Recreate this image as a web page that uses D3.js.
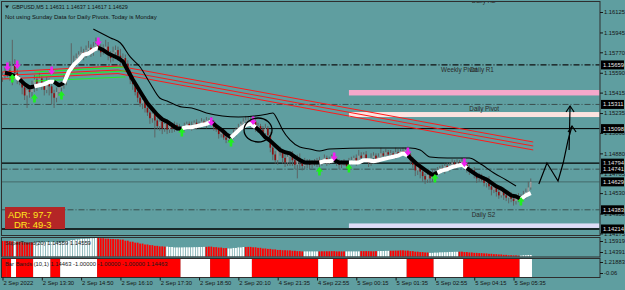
<!DOCTYPE html>
<html>
<head>
<meta charset="utf-8">
<script src="https://cdn.jsdelivr.net/npm/d3@7"></script>
<style>
  body { margin: 0; background: #5f9ea0; }
  #vis { width: 625px; height: 290px; }
</style>
</head>
<body>
<div id="vis"></div>
<script>

// price data, one value per M5 bar (open = previous close)
const FIRST_OPEN = 1.1555;
const CLOSES = [
  1.1557,1.1560,1.1561,1.1558,1.1565,1.1559,1.1554,1.1551,1.1546,1.1539,1.1544,1.1542,1.1547,
  1.1553,1.1549,1.1554,1.1548,1.1544,1.1551,1.1547,1.1541,1.1537,1.1542,1.1546,
  1.1548,1.1553,1.1556,1.1561,1.1565,1.1568,1.1572,1.1575,1.1577,1.1574,1.1579,1.1581,1.1577,1.1582,1.1584,
  1.1581,1.1577,1.1579,1.1582,1.1575,1.1572,1.1577,1.1579,1.1574,1.1570,1.1572,1.1567,
  1.1560,1.1553,1.1549,1.1542,1.1537,1.1532,1.1535,1.1528,1.1524,1.1519,1.1523,1.1517,1.1512,1.1516,1.1510,1.1514,1.1509,1.1512,1.1510,1.1513,
  1.1511,1.1509,1.1510,1.1512,1.1514,1.1511,1.1513,1.1515,1.1512,1.1514,1.1516,1.1513,1.1517,1.1517,
  1.1515,1.1511,1.1509,1.1505,1.1507,1.1502,1.1500,1.1502,
  1.1503,1.1506,1.1509,1.1511,1.1514,1.1516,1.1517,1.1517,
  1.1514,1.1516,1.1510,1.1512,1.1509,1.1506,1.1510,1.1504,1.1493,1.1487,1.1482,1.1491,1.1489,1.1484,1.1480,1.1485,1.1487,1.1482,1.1478,1.1484,1.1481,1.1477,1.1481,1.1480,1.1478,
  1.1480,1.1479,1.1482,1.1480,1.1481,1.1484,1.1480,1.1482,1.1485,
  1.1482,1.1480,1.1478,1.1480,1.1479,1.1477,
  1.1480,1.1482,1.1484,1.1481,1.1486,1.1484,1.1487,1.1482,1.1480,1.1484,1.1486,1.1482,1.1485,1.1488,1.1486,1.1489,1.1487,1.1488,1.1486,1.1489,1.1488,1.1490,1.1488,1.1491,
  1.1487,1.1482,1.1478,1.1473,1.1477,1.1472,1.1468,1.1465,1.1469,1.1466,1.1471,
  1.1472,1.1473,1.1475,1.1473,1.1477,1.1475,1.1478,1.1480,1.1477,1.1480,1.1479,1.1481,
  1.1478,1.1475,1.1472,1.1473,1.1469,1.1466,1.1468,1.1465,1.1462,1.1465,1.1459,1.1456,1.1458,1.1454,1.1451,1.1455,1.1451,1.1449,1.1452,1.1448,1.1446,1.1450,1.1447,
  1.1449,1.1451,1.1454,1.1458,1.14629
];
// wick sizes in pips above / below the body
const WICK_UP = [
  3,4,5,8,23,6,3,2,3,2,4,3,5,
  4,3,5,2,3,4,3,2,3,4,3,
  3,4,3,5,20,6,4,3,5,3,4,6,3,4,6,
  4,3,5,6,4,3,5,4,3,6,4,3,
  3,2,4,3,2,5,4,3,4,2,5,3,2,4,3,2,4,3,2,3,
  2,3,2,3,2,2,3,2,3,2,3,2,3,2,
  3,2,3,2,3,2,3,2,
  2,3,2,3,2,3,4,3,
  3,4,2,3,2,3,4,2,3,2,3,4,3,2,3,4,2,3,2,3,4,2,3,2,3,
  2,3,2,3,2,3,2,3,2,
  3,2,3,2,3,2,
  4,3,2,3,5,3,2,3,2,4,3,2,3,5,2,3,2,3,2,4,3,2,3,2,
  3,2,3,2,3,2,3,2,3,2,3,
  2,3,2,3,2,3,2,3,2,3,2,3,
  3,2,3,2,3,2,3,2,3,2,3,2,3,2,3,2,3,2,3,2,3,2,3,
  3,4,3,5,3
];
const WICK_DOWN = [
  4,3,5,6,10,4,5,3,6,4,11,5,4,
  5,6,3,4,5,3,8,10,9,4,3,
  4,3,5,3,2,4,3,2,3,4,2,3,4,3,2,
  3,4,2,3,5,4,3,6,4,3,5,4,
  3,4,5,3,4,3,5,4,3,5,4,15,3,4,5,3,4,3,4,3,
  3,2,3,2,3,2,3,2,3,2,3,2,3,2,
  2,3,2,4,3,2,3,2,
  3,2,3,2,3,2,3,2,
  3,2,3,4,3,2,5,3,4,5,3,4,3,5,4,3,8,5,4,12,6,4,3,5,4,
  3,2,3,4,3,2,3,2,3,
  2,3,4,3,2,3,
  3,2,3,4,3,2,3,2,4,3,2,3,2,3,2,3,2,3,2,3,2,3,2,3,
  3,4,3,5,4,6,5,4,3,4,3,
  3,2,3,2,3,2,3,2,3,2,3,2,
  3,4,3,2,3,4,3,2,3,4,3,5,3,4,3,2,4,3,5,3,4,3,2,
  3,2,3,2,2
];

// thick trend line, one value every second bar (bars 1, 3, 5 ...)
const TREND_VALUES = [
  1.1559,1.1558,1.1556,1.1553,1.1549,1.1546,1.1547,1.1548,1.1549,1.1551,1.1551,1.1548,1.1550,1.1560,1.1566,1.1570,1.1575,1.1576,1.1579,1.1581,
  1.1579,1.1576,1.1574,1.1572,1.1569,1.1561,1.1553,1.1546,1.1539,1.1532,1.1527,1.1522,1.1518,1.1516,1.1513,1.1510,1.1510,1.1511,1.1511,1.1512,
  1.1513,1.1514,1.1516,1.1512,1.1509,1.1505,1.1502,1.1506,1.1510,1.1513,1.1514,1.1511,1.1507,1.1502,1.1499,1.1495,1.1491,1.1489,1.1488,1.1485,
  1.1482,1.1480,1.1480,1.1480,1.1480,1.1481,1.1481,1.1482,1.1480,1.1480,1.1480,1.1480,1.1480,1.1482,1.1482,1.1481,1.1482,1.1483,1.1484,1.1485,
  1.1486,1.1488,1.1486,1.1482,1.1478,1.1475,1.1472,1.1469,1.1471,1.1473,1.1474,1.1476,1.1477,1.1478,1.1475,1.1472,1.1469,1.1467,1.1465,1.1462,
  1.1459,1.1457,1.1454,1.1451,1.1450,1.1448,1.1451,1.1453
];

// thin black envelope line
const BAND_BARS = [37,44,48,52,56,60,64,67,73,77,83,96,108,110,112,114,117,121,125,129,133,150,158,166,170,174,181,190,194,200,205,209];
const BAND_PRICES = [1.15975,1.15896,1.15852,1.15729,1.15641,1.15500,1.15368,1.15341,1.15288,1.15280,1.15236,1.15200,1.15227,1.15236,1.15174,1.15086,
  1.14998,1.14936,1.14919,1.14901,1.14919,1.14927,1.14927,1.14927,1.14910,1.14848,1.14839,1.14839,1.14795,1.14707,1.14646,1.14593];

// red channel and green lines
const RED_BARS = [0, 47, 216];
const RED_UPPER = [1.15597, 1.15650, 1.14980];
const RED_MID = [1.15566, 1.15614, 1.14945];
const RED_LOWER = [1.15535, 1.15583, 1.14910];
const GREEN_BARS = [13, 50];
const GREEN_UPPER = [1.15597, 1.15641];
const GREEN_MID = [1.15561, 1.15606];
const GREEN_LOWER = [1.15517, 1.15553];

// arrow signals
const SELL_BARS = [2, 6, 20, 39, 85, 102, 135, 165, 188];
const SELL_PRICES = [1.15641, 1.15658, 1.15605, 1.15861, 1.15156, 1.15165, 1.14848, 1.14892, 1.14795];
const BUY_BARS = [4, 13, 24, 73, 93, 129, 141, 176, 211];
const BUY_PRICES = [1.15544, 1.15368, 1.15394, 1.15068, 1.14980, 1.14725, 1.14751, 1.14663, 1.14461];

// supertrend histogram colour flips (starts red)
const ST_FLIP_BARS = [5, 6, 13, 39, 67, 83, 92, 99, 123, 129, 140, 146, 153, 158, 174, 186, 211];

// pivot levels and zones
const LEVEL_PRICES = [1.15659, 1.15311, 1.15098, 1.14794, 1.14741, 1.14629, 1.14383, 1.14214];
const ZONE_TOP = [1.15438, 1.15244, 1.14263];
const ZONE_BOTTOM = [1.15390, 1.15200, 1.14223];
const ZONE_START_BAR = 141;
const LEVEL_LABELS = ["Weekly Pivot", "Daily R1", "Daily Pivot", "Daily S2", "Daily R2"];
const LABEL_PRICES = [1.15659, 1.15659, 1.15311, 1.14383, 1.16262];
const LABEL_BARS = [178.5, 190.3, 190, 191, 191];

// hand drawn annotation
const CIRCLE_BAR = 104, CIRCLE_PRICE = 1.15086;
const SKETCH_BARS = [218.3, 221.6, 226.1, 228.2, 230.2, 231.8];
const SKETCH_PRICES = [1.14610, 1.14795, 1.14637, 1.14795, 1.14998, 1.15121];
const SKETCH2_BARS = [230.6, 231.0];
const SKETCH2_PRICES = [1.14910, 1.15297];

// axis labels
const PRICE_TICKS = [1.16125,1.15945,1.15770,1.15590,1.15415,1.15235,1.15060,1.14880,1.14705,1.14530,1.14350,1.14175];
const TIME_BARS = [0,16,32,48,64,80,96,112,128,144,160,176,192,208];
const TIME_LABELS = ["2 Sep 2022","2 Sep 13:30","2 Sep 14:50","2 Sep 16:10","2 Sep 17:30","2 Sep 18:50","2 Sep 20:10",
  "4 Sep 21:35","4 Sep 22:55","5 Sep 00:15","5 Sep 01:35","5 Sep 02:55","5 Sep 04:15","5 Sep 05:35"];
const ST_TICKS = [1.15919, 1.14391];
const BB_TICKS = [1.21883, -0.06];


// frame constants
const FRAME_WIDTH = 625;
const FRAME_HEIGHT = 290;
const MAIN = {left: 1.5, right: 600, top: 1.5, bottom: 235.5};
const SUB1 = {top: 237.5, bottom: 257};
const SUB2 = {top: 258.5, bottom: 277.5};
const BAR_STEP = 2.457;
const FONT = "'Liberation Sans', Arial, sans-serif";

const FRAME = d3.select("#vis")
                .append("svg")
                  .attr("width", FRAME_WIDTH)
                  .attr("height", FRAME_HEIGHT)
                  .style("font-family", FONT);

// scales
const X_SCALE = d3.scaleLinear().domain([0, 1]).range([2.5, 2.5 + BAR_STEP]);
const Y_SCALE = d3.scaleLinear().domain([1.14214, 1.16125]).range([229, 12]);
const HIST_SCALE = d3.scaleLinear().domain([1.14415, 1.1581]).range([256.5, 238]);
const ST_LABEL_SCALE = d3.scaleLinear().domain([1.14391, 1.15919]).range([252, 241]);
const BB_LABEL_SCALE = d3.scaleLinear().domain([-0.06, 1.21883]).range([273, 262]);

// clip for the main window
FRAME.append("clipPath").attr("id", "mainclip")
  .append("rect")
    .attr("x", MAIN.left + 0.5).attr("y", MAIN.top + 0.5)
    .attr("width", MAIN.right - MAIN.left - 1).attr("height", MAIN.bottom - MAIN.top - 1);

const MAING = FRAME.append("g").attr("clip-path", "url(#mainclip)");

// signal state: -1 after sell arrow, 1 after buy arrow
const EVENTS = SELL_BARS.map((b) => ({bar: b, dir: -1}))
  .concat(BUY_BARS.map((b) => ({bar: b, dir: 1})))
  .sort((a, b) => a.bar - b.bar);
function stateAt(bar) {
  let s = -1;
  EVENTS.forEach((e) => { if (e.bar <= bar) { s = e.dir; } });
  return s;
}


// pivot zones
MAING.selectAll(".zone")
  .data(ZONE_TOP)
  .enter()
  .append("rect")
    .attr("x", X_SCALE(ZONE_START_BAR))
    .attr("y", (d) => Y_SCALE(d))
    .attr("width", MAIN.right - X_SCALE(ZONE_START_BAR))
    .attr("height", (d, i) => Y_SCALE(ZONE_BOTTOM[i]) - Y_SCALE(d))
    .attr("fill", (d, i) => ["#f5a8cb", "#fde3e0", "#dedcf6"][i]);

// level lines
const LEVEL_STYLES = [
  {stroke: "#111", width: 1.2, dash: "6,2,1,2"},
  {stroke: "#3a4d4d", width: 1, dash: "6,2,1,2"},
  {stroke: "#000", width: 1, dash: null},
  {stroke: "#000", width: 1.2, dash: null},
  {stroke: "#3a4d4d", width: 1, dash: "6,2,1,2"},
  {stroke: "#3d5a5a", width: 0.8, dash: null},
  {stroke: "#3a4d4d", width: 1, dash: "6,2,1,2"},
  {stroke: "#000", width: 1.5, dash: null}
];
MAING.selectAll(".level")
  .data(LEVEL_PRICES)
  .enter()
  .append("line")
    .attr("x1", MAIN.left).attr("x2", MAIN.right)
    .attr("y1", (d) => Y_SCALE(d)).attr("y2", (d) => Y_SCALE(d))
    .attr("stroke", (d, i) => LEVEL_STYLES[i].stroke)
    .attr("stroke-width", (d, i) => LEVEL_STYLES[i].width)
    .attr("stroke-dasharray", (d, i) => LEVEL_STYLES[i].dash);

// level labels
MAING.selectAll(".lvlabel")
  .data(LEVEL_LABELS)
  .enter()
  .append("text")
    .attr("x", (d, i) => X_SCALE(LABEL_BARS[i]))
    .attr("y", (d, i) => Y_SCALE(LABEL_PRICES[i]) + 7)
    .attr("font-size", "6.3px")
    .attr("fill", "#2a2a2a")
    .text((d) => d);

// candles
const CANDLES = CLOSES.map((c, i) => {
  const o = (i === 0) ? FIRST_OPEN : CLOSES[i - 1];
  return {i: i, o: o, c: c,
          h: Math.max(o, c) + (WICK_UP[i] || 0) / 1e4,
          l: Math.min(o, c) - (WICK_DOWN[i] || 0) / 1e4};
});

MAING.selectAll(".wick")
  .data(CANDLES)
  .enter()
  .append("line")
    .attr("x1", (d) => X_SCALE(d.i)).attr("x2", (d) => X_SCALE(d.i))
    .attr("y1", (d) => Y_SCALE(d.h)).attr("y2", (d) => Y_SCALE(d.l))
    .attr("stroke", "#5e5e5e")
    .attr("stroke-width", 0.9);

MAING.selectAll(".body")
  .data(CANDLES)
  .enter()
  .append("rect")
    .attr("x", (d) => X_SCALE(d.i) - 0.8)
    .attr("y", (d) => Y_SCALE(Math.max(d.o, d.c)))
    .attr("width", 1.6)
    .attr("height", (d) => Math.max(0.8, Y_SCALE(Math.min(d.o, d.c)) - Y_SCALE(Math.max(d.o, d.c))))
    .attr("fill", (d) => (d.c >= d.o) ? "#9c9c9c" : "#8e1010");

// red channel
const LINE = d3.line().x((d) => X_SCALE(d[0])).y((d) => Y_SCALE(d[1]));
[RED_UPPER, RED_MID, RED_LOWER].forEach((arr) => {
  MAING.append("path")
    .attr("d", LINE(RED_BARS.map((b, i) => [b, arr[i]])))
    .attr("fill", "none")
    .attr("stroke", "#ff1a1a")
    .attr("stroke-width", 1);
});

// green lines
[GREEN_UPPER, GREEN_MID, GREEN_LOWER].forEach((arr) => {
  MAING.append("path")
    .attr("d", LINE(GREEN_BARS.map((b, i) => [b, arr[i]])))
    .attr("fill", "none")
    .attr("stroke", "#22ee22")
    .attr("stroke-width", 1);
});

// thin black envelope
MAING.append("path")
  .attr("d", LINE.curve(d3.curveMonotoneX)(BAND_BARS.map((b, i) => [b, BAND_PRICES[i]])))
  .attr("fill", "none")
  .attr("stroke", "#000")
  .attr("stroke-width", 1.1);
LINE.curve(d3.curveLinear);

// thick trend line, black in down state and white in up state
const TREND_PTS = TREND_VALUES.map((v, k) => [2 * k + 1, v]);
const RUNS = [];
for (let k = 0; k < TREND_PTS.length - 1; k++) {
  const up = stateAt(TREND_PTS[k][0]) === 1;
  if (RUNS.length && RUNS[RUNS.length - 1].up === up) {
    RUNS[RUNS.length - 1].pts.push(TREND_PTS[k + 1]);
  } else {
    RUNS.push({up: up, pts: [TREND_PTS[k], TREND_PTS[k + 1]]});
  }
}
MAING.selectAll(".trend")
  .data(RUNS)
  .enter()
  .append("path")
    .attr("d", (d) => LINE(d.pts))
    .attr("fill", "none")
    .attr("stroke", (d) => d.up ? "#ffffff" : "#000000")
    .attr("stroke-width", 4)
    .attr("stroke-linejoin", "bevel");

// arrows
MAING.selectAll(".sell")
  .data(SELL_BARS)
  .enter()
  .append("path")
    .attr("transform", (d, i) => "translate(" + X_SCALE(d) + "," + Y_SCALE(SELL_PRICES[i]) + ")")
    .attr("d", "M-1.3,-4.5L1.3,-4.5L1.3,-0.5L3.6,-0.5L0,4L-3.6,-0.5L-1.3,-0.5Z")
    .attr("fill", "#f020f0");

MAING.selectAll(".buy")
  .data(BUY_BARS)
  .enter()
  .append("path")
    .attr("transform", (d, i) => "translate(" + X_SCALE(d) + "," + Y_SCALE(BUY_PRICES[i]) + ")")
    .attr("d", "M-1.3,4.5L1.3,4.5L1.3,0.5L3.6,0.5L0,-4L-3.6,0.5L-1.3,0.5Z")
    .attr("fill", "#1ef01e");

// circle annotation
MAING.append("ellipse")
  .attr("cx", X_SCALE(CIRCLE_BAR))
  .attr("cy", Y_SCALE(CIRCLE_PRICE))
  .attr("rx", 14).attr("ry", 12)
  .attr("fill", "none")
  .attr("stroke", "#000")
  .attr("stroke-width", 1.3);

// sketched arrows on the right
function sketch(bars, prices) {
  const pts = bars.map((b, i) => [b, prices[i]]);
  MAING.append("path")
    .attr("d", LINE(pts))
    .attr("fill", "none")
    .attr("stroke", "#000")
    .attr("stroke-width", 1.2);
  const tip = pts[pts.length - 1];
  const tx = X_SCALE(tip[0]), ty = Y_SCALE(tip[1]);
  MAING.append("path")
    .attr("d", "M" + (tx - 4) + "," + (ty + 6) + "L" + tx + "," + ty + "L" + (tx + 4) + "," + (ty + 6))
    .attr("fill", "none")
    .attr("stroke", "#000")
    .attr("stroke-width", 1.2);
}
sketch(SKETCH_BARS, SKETCH_PRICES);
sketch(SKETCH2_BARS, SKETCH2_PRICES);

// title lines
FRAME.append("path").attr("d", "M5,5.5L9,5.5L7,8.5Z").attr("fill", "#111");
FRAME.append("text").attr("x", 12).attr("y", 9)
  .attr("font-size", "5.4px").attr("fill", "#111")
  .text("GBPUSD,M5  1.14631 1.14637 1.14617 1.14629");
FRAME.append("text").attr("x", 5).attr("y", 18.5)
  .attr("font-size", "6px").attr("fill", "#111")
  .text("Not using Sunday Data for Daily Pivots.  Today is Monday");

// ADR box
FRAME.append("rect")
  .attr("x", 5).attr("y", 207).attr("width", 60).attr("height", 22)
  .attr("fill", "#b42626");
FRAME.append("text").attr("x", 8).attr("y", 217.5)
  .attr("font-size", "9.4px").attr("fill", "#ffe81a")
  .text("ADR: 97-7");
FRAME.append("text").attr("x", 14).attr("y", 228)
  .attr("font-size", "9.4px").attr("fill", "#ffe81a")
  .text("DR: 49-3");

// supertrend histogram
function stRed(bar) {
  let red = true;
  ST_FLIP_BARS.forEach((b) => { if (b <= bar) { red = !red; } });
  return red;
}
FRAME.selectAll(".hist")
  .data(CLOSES.map((c, i) => i))
  .enter()
  .append("rect")
    .attr("x", (d) => X_SCALE(d) - 0.9)
    .attr("y", (d) => HIST_SCALE(TREND_VALUES[Math.min(TREND_VALUES.length - 1, Math.floor(d / 2))]))
    .attr("width", 1.8)
    .attr("height", (d) => HIST_SCALE.range()[0] - HIST_SCALE(TREND_VALUES[Math.min(TREND_VALUES.length - 1, Math.floor(d / 2))]))
    .attr("fill", (d) => stRed(d) ? "#ff0000" : "#ffffff");

FRAME.append("text").attr("x", 5).attr("y", 244.5)
  .attr("font-size", "5.8px").attr("fill", "#1a1a1a")
  .text("SuperTrend(20) 1.14559 1.14559");

// bar bands blocks
const STARTS = [0].concat(EVENTS.map((e) => e.bar));
FRAME.selectAll(".band")
  .data(STARTS)
  .enter()
  .append("rect")
    .attr("x", (d) => X_SCALE(d) - BAR_STEP / 2)
    .attr("y", SUB2.top + 0.5)
    .attr("width", (d, i) => {
      const end = (i < STARTS.length - 1) ? STARTS[i + 1] : CLOSES.length;
      return X_SCALE(end) - X_SCALE(d);
    })
    .attr("height", SUB2.bottom - SUB2.top - 1)
    .attr("fill", (d) => stateAt(d) === 1 ? "#ffffff" : "#ff0000");

FRAME.append("text").attr("x", 5).attr("y", 265.5)
  .attr("font-size", "5.8px").attr("fill", "#1a1a1a")
  .text("Bar Bands (10,1) 1.14463 -1.00000 -1.00000 -1.00000 1.14463");

// window frames
[[MAIN.top, MAIN.bottom], [SUB1.top, SUB1.bottom], [SUB2.top, SUB2.bottom]].forEach((p) => {
  FRAME.append("rect")
    .attr("x", MAIN.left).attr("y", p[0])
    .attr("width", MAIN.right - MAIN.left).attr("height", p[1] - p[0])
    .attr("fill", "none")
    .attr("stroke", "#2e2e2e")
    .attr("stroke-width", 1);
});

// price axis
function styleAxis(g) {
  g.select(".domain").remove();
  g.attr("font-family", FONT).attr("font-size", "5.8px");
  g.selectAll("text").attr("fill", "#151515");
  g.selectAll("line").attr("stroke", "#151515");
}
FRAME.append("g")
  .attr("transform", "translate(" + MAIN.right + ",0)")
  .call(d3.axisRight(Y_SCALE).tickValues(PRICE_TICKS).tickFormat(d3.format(".5f")).tickSize(3).tickPadding(1))
  .call(styleAxis);

// boxed price labels
const BOXES = FRAME.selectAll(".box")
  .data(LEVEL_PRICES)
  .enter()
  .append("g")
    .attr("transform", (d) => "translate(" + (MAIN.right + 1) + "," + Y_SCALE(d) + ")");
BOXES.append("rect")
  .attr("x", 0).attr("y", -4.5).attr("width", 23).attr("height", 9)
  .attr("fill", "#000");
BOXES.append("text")
  .attr("x", 2).attr("y", 2)
  .attr("font-size", "5.8px").attr("fill", "#e8e8e8")
  .text((d) => d3.format(".5f")(d));

// sub window axes
FRAME.append("g")
  .attr("transform", "translate(" + MAIN.right + ",0)")
  .call(d3.axisRight(ST_LABEL_SCALE).tickValues(ST_TICKS).tickFormat(d3.format(".5f")).tickSize(3).tickPadding(1))
  .call(styleAxis);
FRAME.append("g")
  .attr("transform", "translate(" + MAIN.right + ",0)")
  .call(d3.axisRight(BB_LABEL_SCALE).tickValues(BB_TICKS)
          .tickFormat((d) => d < 0 ? "-0.06" : d3.format(".5f")(d)).tickSize(3).tickPadding(1))
  .call(styleAxis);

// time axis
FRAME.append("g")
  .attr("transform", "translate(0," + SUB2.bottom + ")")
  .call(d3.axisBottom(X_SCALE).tickValues(TIME_BARS).tickFormat((d, i) => TIME_LABELS[i]).tickSize(3).tickPadding(0.5))
  .call(styleAxis)
  .call((g) => g.selectAll("text").attr("text-anchor", "start").attr("x", 0.5));

</script>
</body>
</html>
